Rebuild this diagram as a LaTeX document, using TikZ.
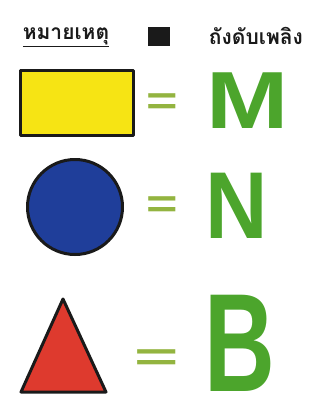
\documentclass[tikz,border=0pt]{standalone}
\usepackage{fontspec}
\setmainfont{Liberation Sans}
\newfontfamily\thaifont[Script=Thai]{Loma}
\usepackage{xcolor}
\definecolor{CYellow}{HTML}{F6E414}
\definecolor{CBlue}{HTML}{1F3E9A}
\definecolor{CRed}{HTML}{DE3A2E}
\definecolor{CGreen}{HTML}{4CA52C}
\definecolor{COlive}{HTML}{93B440}
\definecolor{CInk}{HTML}{1A1A1A}
\usetikzlibrary{positioning}
\tikzstyle{headNode}=[inner sep=0pt, font=\thaifont\bfseries\fontsize{21}{24}\selectfont, text=CInk]
\tikzstyle{symbolShape}=[draw=CInk, line width=3pt, line join=round, inner sep=0pt]
\tikzstyle{eqNode}=[inner sep=0pt, text=COlive, font=\bfseries\fontsize{40}{40}\selectfont]
\tikzstyle{letterNode}=[inner sep=0pt, text=CGreen]

\begin{document}
\begin{tikzpicture}[x=1pt, y=-1pt]
\useasboundingbox (0,0) rectangle (324,408);
% header
\node[headNode] (note) at (66,37) {\underline{หมายเหตุ}};
\node[fill=CInk, minimum width=22pt, minimum height=19pt, inner sep=0pt] (key) at (158.5,36) {};
\node[headNode] (extinguisher) at (256,36) {ถังดับเพลิง};

% symbols
\node[symbolShape, fill=CYellow, minimum width=113pt, minimum height=65pt] (box) at (76.5,103) {};
\node[symbolShape, circle, fill=CBlue, minimum size=95pt] (disc) at (75,207) {};
\draw[symbolShape, fill=CRed] (63,299) -- (106,392) -- (21,392) -- cycle;

% equals signs
\node[eqNode, xscale=1.35] (eqM) at (162,104) {=};
\node[eqNode, xscale=1.35] (eqN) at (162,207) {=};
\node[eqNode, xscale=1.9] (eqB) at (157,360) {=};

% letters
\node[letterNode, font=\bfseries\fontsize{81}{81}\selectfont, xscale=1.22] (letterM) at (248,101) {M};
\node[letterNode, font=\bfseries\fontsize{95}{95}\selectfont, xscale=0.91] (letterN) at (237,206) {N};
\node[letterNode, font=\bfseries\fontsize{140}{140}\selectfont, xscale=0.7] (letterB) at (240,343) {B};
\end{tikzpicture}
\end{document}
